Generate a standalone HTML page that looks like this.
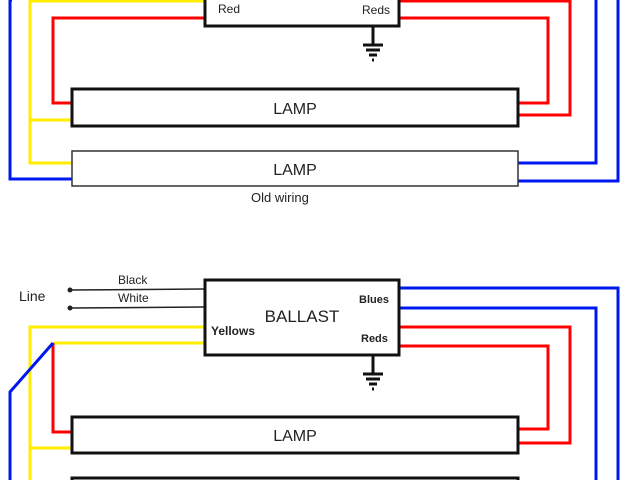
<!DOCTYPE html>
<html><head><style>
html,body{margin:0;padding:0;background:#fff;}
svg{display:block;}
text{font-family:"Liberation Sans",sans-serif;fill:#222;}
</style></head><body>
<svg width="640" height="480" viewBox="0 0 640 480" xmlns="http://www.w3.org/2000/svg">
<g fill="none" stroke-width="3" stroke-linejoin="miter">
<!-- TOP -->
<polyline points="204,1 30,1 30,163 72,163" stroke="#ffee00"/>
<line x1="30" y1="120" x2="72" y2="120" stroke="#ffee00"/>
<polyline points="204,18 53,18 53,103 72,103" stroke="#f00"/>
<polyline points="12,0 10,0 10,179 72,179" stroke="#0018f0"/>
<polyline points="400,18 548,18 548,103 518,103" stroke="#f00"/>
<polyline points="400,1 570,1 570,115 518,115" stroke="#f00"/>
<polyline points="596,0 596,163 518,163" stroke="#0018f0"/>
<polyline points="618,0 618,181 518,181" stroke="#0018f0"/>
<!-- BOTTOM -->
<polyline points="204,327 30,327 30,480" stroke="#ffee00"/>
<line x1="30" y1="448" x2="72" y2="448" stroke="#ffee00"/>
<line x1="53" y1="343" x2="204" y2="343" stroke="#ffee00"/>
<polyline points="53,343 53,432 72,432" stroke="#f00"/>
<polyline points="53,343 10,392 10,480" stroke="#0018f0"/>
<polyline points="400,327 570,327 570,443 518,443" stroke="#f00"/>
<polyline points="400,346 548,346 548,429 518,429" stroke="#f00"/>
<polyline points="400,288 618,288 618,480" stroke="#0018f0"/>
<polyline points="400,308 596,308 596,480" stroke="#0018f0"/>
</g>
<!-- line wires -->
<g stroke="#222" stroke-width="1.5">
<line x1="70" y1="290" x2="204" y2="289"/>
<line x1="70" y1="308" x2="204" y2="307"/>
</g>
<circle cx="70" cy="290" r="2.5" fill="#222"/>
<circle cx="70" cy="308" r="2.5" fill="#222"/>
<!-- ballast boxes -->
<rect x="205" y="-5" width="194" height="31" fill="#fff" stroke="#111" stroke-width="3"/>
<rect x="205" y="280" width="194" height="75" fill="#fff" stroke="#111" stroke-width="3"/>
<!-- grounds -->
<g stroke="#111" stroke-width="3">
<line x1="373" y1="27" x2="373" y2="44"/>
<line x1="363" y1="45" x2="383" y2="45"/>
<line x1="366" y1="50" x2="380" y2="50"/>
<line x1="369" y1="55" x2="377" y2="55"/>
<line x1="372" y1="60" x2="374" y2="60"/>
<line x1="373" y1="356" x2="373" y2="373"/>
<line x1="363" y1="374" x2="383" y2="374"/>
<line x1="366" y1="379" x2="380" y2="379"/>
<line x1="369" y1="384" x2="377" y2="384"/>
<line x1="372" y1="389" x2="374" y2="389"/>
</g>
<!-- lamps -->
<rect x="72" y="89" width="446" height="37" fill="#fff" stroke="#111" stroke-width="3"/>
<rect x="72" y="151" width="446" height="35" fill="#fff" stroke="#333" stroke-width="1.5"/>
<rect x="72" y="417" width="446" height="36" fill="#fff" stroke="#111" stroke-width="3"/>
<rect x="72" y="478" width="446" height="10" fill="#fff" stroke="#111" stroke-width="3"/>
<!-- texts -->
<g font-size="16" text-anchor="middle">
<text x="295" y="114">LAMP</text>
<text x="295" y="175">LAMP</text>
<text x="295" y="441">LAMP</text>
<text x="302" y="322" font-size="17">BALLAST</text>
</g>
<g font-size="12">
<text x="218" y="13">Red</text>
<text x="362" y="14">Reds</text>
<text x="251" y="202" font-size="13">Old wiring</text>
<text x="118" y="284">Black</text>
<text x="118" y="302">White</text>
<text x="19" y="301" font-size="14">Line</text>
<text x="359" y="303" font-size="11" font-weight="bold">Blues</text>
<text x="211" y="335" font-weight="bold">Yellows</text>
<text x="361" y="342" font-size="11" font-weight="bold">Reds</text>
</g>
</svg>
</body></html>
